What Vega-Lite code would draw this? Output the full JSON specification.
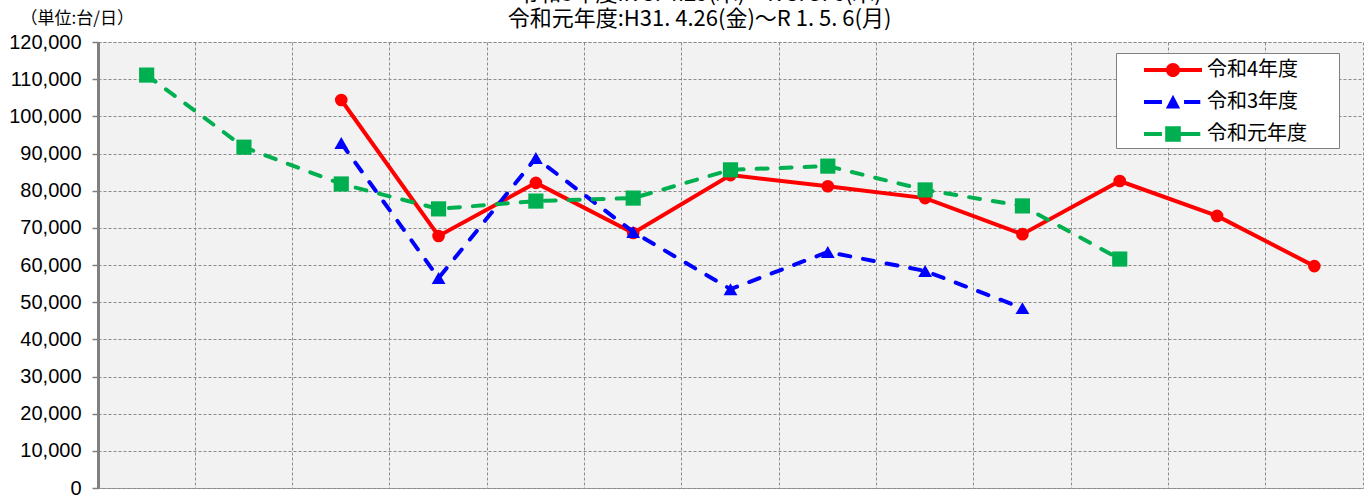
{
  "$schema": "https://vega.github.io/schema/vega-lite/v6.json",
  "autosize": "none",
  "padding": {"left": 98, "top": 42, "right": 5, "bottom": 7},
  "width": 1265,
  "height": 446,
  "background": "white",
  "title": {
    "text": ["令和3年度:R 3. 4.29(木)～R 3. 5. 6(木)", "令和元年度:H31. 4.26(金)～R 1. 5. 6(月)"],
    "font": "Noto Sans CJK JP",
    "fontSize": 22,
    "fontWeight": "normal",
    "lineHeight": 25,
    "color": "black",
    "anchor": "middle",
    "offset": 10,
    "dx": -31,
    "dy": 32
  },
  "data": {
    "values": [
      {"day": 3, "series": "令和4年度", "value": 104400},
      {"day": 4, "series": "令和4年度", "value": 67800},
      {"day": 5, "series": "令和4年度", "value": 82100},
      {"day": 6, "series": "令和4年度", "value": 68600},
      {"day": 7, "series": "令和4年度", "value": 84200},
      {"day": 8, "series": "令和4年度", "value": 81200},
      {"day": 9, "series": "令和4年度", "value": 78000},
      {"day": 10, "series": "令和4年度", "value": 68300},
      {"day": 11, "series": "令和4年度", "value": 82600},
      {"day": 12, "series": "令和4年度", "value": 73200},
      {"day": 13, "series": "令和4年度", "value": 59700},
      {"day": 3, "series": "令和3年度", "value": 92800},
      {"day": 4, "series": "令和3年度", "value": 56500},
      {"day": 5, "series": "令和3年度", "value": 88800},
      {"day": 6, "series": "令和3年度", "value": 68900},
      {"day": 7, "series": "令和3年度", "value": 53500},
      {"day": 8, "series": "令和3年度", "value": 63500},
      {"day": 9, "series": "令和3年度", "value": 58400},
      {"day": 10, "series": "令和3年度", "value": 48400},
      {"day": 1, "series": "令和元年度", "value": 111100},
      {"day": 2, "series": "令和元年度", "value": 91700},
      {"day": 3, "series": "令和元年度", "value": 81800},
      {"day": 4, "series": "令和元年度", "value": 75100},
      {"day": 5, "series": "令和元年度", "value": 77200},
      {"day": 6, "series": "令和元年度", "value": 78000},
      {"day": 7, "series": "令和元年度", "value": 85600},
      {"day": 8, "series": "令和元年度", "value": 86600},
      {"day": 9, "series": "令和元年度", "value": 80200},
      {"day": 10, "series": "令和元年度", "value": 75900},
      {"day": 11, "series": "令和元年度", "value": 61600}
    ]
  },
  "encoding": {
    "x": {
      "field": "day",
      "type": "ordinal",
      "scale": {"type": "band", "domain": [1,2,3,4,5,6,7,8,9,10,11,12,13], "paddingInner": 0, "paddingOuter": 0},
      "axis": {"title": null, "labels": false, "ticks": false, "domain": false, "grid": true, "bandPosition": 0}
    },
    "y": {
      "field": "value",
      "type": "quantitative",
      "scale": {"domain": [0, 120000], "nice": false},
      "axis": {
        "title": "（単位:台/日）",
        "titleAngle": 0,
        "titleAlign": "left",
        "titleBaseline": "middle",
        "titleX": -78,
        "titleY": -24,
        "titleFont": "Noto Sans CJK JP",
        "titleFontSize": 17,
        "titleFontWeight": "normal",
        "titleColor": "black",
        "values": [0,10000,20000,30000,40000,50000,60000,70000,80000,90000,100000,110000,120000],
        "format": ",.0f",
        "grid": true
      }
    }
  },
  "layer": [
    {
      "transform": [{"filter": "datum.series === '令和4年度'"}],
      "mark": {"type": "line", "color": "#FF0000", "strokeWidth": 4}
    },
    {
      "transform": [{"filter": "datum.series === '令和4年度'"}],
      "mark": {"type": "point", "shape": "circle", "filled": true, "opacity": 1, "color": "#FF0000", "size": 160}
    },
    {
      "transform": [{"filter": "datum.series === '令和3年度'"}],
      "mark": {"type": "line", "color": "#0000FF", "strokeWidth": 4, "strokeDash": [11, 13], "strokeCap": "round"}
    },
    {
      "transform": [{"filter": "datum.series === '令和3年度'"}],
      "mark": {"type": "point", "shape": "triangle-up", "filled": true, "opacity": 1, "color": "#0000FF", "size": 190}
    },
    {
      "transform": [{"filter": "datum.series === '令和元年度'"}],
      "mark": {"type": "line", "color": "#00B050", "strokeWidth": 4, "strokeDash": [11, 13], "strokeCap": "round"}
    },
    {
      "transform": [{"filter": "datum.series === '令和元年度'"}],
      "mark": {"type": "point", "shape": "square", "filled": true, "opacity": 1, "color": "#00B050", "size": 230}
    },
    {
      "transform": [{"filter": "datum.value < 0"}],
      "mark": {"type": "point", "filled": true, "opacity": 1},
      "encoding": {
        "color": {
          "field": "series",
          "type": "nominal",
          "scale": {"domain": ["令和4年度", "令和3年度", "令和元年度"], "range": ["#FF0000", "#0000FF", "#00B050"]},
          "legend": {"title": null}
        },
        "shape": {
          "field": "series",
          "type": "nominal",
          "scale": {
            "domain": ["令和4年度", "令和3年度", "令和元年度"],
            "range": [
              "M-2.23,-0.154H-0.45V0.154H-2.23Z M0.45,-0.154H2.23V0.154H0.45Z M0.54,0A0.54,0.54 0 1 1 -0.54,0A0.54,0.54 0 1 1 0.54,0Z M12.4,0h0.01v0.01h-0.01Z",
              "M-2.23,-0.154H-0.85V0.154H-2.23Z M0.85,-0.154H2.1V0.154H0.85Z M0,-0.55L0.55,0.5H-0.55Z",
              "M-2.23,-0.154H-0.85V0.154H-2.23Z M0.6,-0.154H2.1V0.154H0.6Z M-0.6,-0.6H0.6V0.6H-0.6Z"
            ]
          },
          "legend": {"title": null}
        }
      }
    }
  ],
  "config": {
    "view": {"fill": "#F2F2F2", "stroke": "#909090", "strokeDash": [3, 2], "strokeWidth": 1},
    "axis": {
      "gridColor": "#8c8c8c",
      "gridDash": [3, 2],
      "gridWidth": 1,
      "gridOpacity": 1
    },
    "axisY": {
      "domainColor": "#808080",
      "domainWidth": 3,
      "tickColor": "#808080",
      "tickSize": 6,
      "tickWidth": 1.5,
      "labelFont": "Liberation Sans",
      "labelFontSize": 20,
      "labelColor": "black",
      "labelPadding": 11
    },
    "legend": {
      "orient": "none",
      "legendX": 1018,
      "legendY": 11,
      "fillColor": "white",
      "strokeColor": "#808080",
      "padding": 4,
      "symbolSize": 676,
      "symbolOffset": 40,
      "symbolStrokeWidth": 0,
      "labelOffset": 21,
      "labelFont": "Noto Sans CJK JP",
      "labelFontSize": 20,
      "labelColor": "black",
      "rowPadding": 9
    }
  }
}
